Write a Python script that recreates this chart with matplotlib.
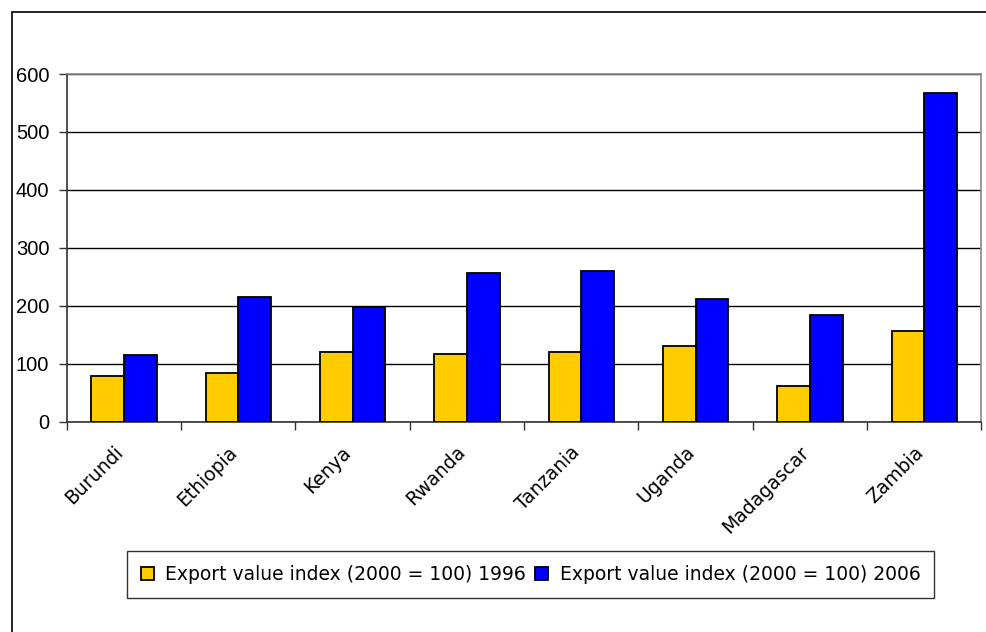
import matplotlib
matplotlib.use("Agg")
import matplotlib.pyplot as plt
import numpy as np
from matplotlib.patches import Rectangle

countries = ["Burundi", "Ethiopia", "Kenya", "Rwanda", "Tanzania", "Uganda",
             "Madagascar", "Zambia"]
index_1996 = [78, 84, 120, 116, 120, 130, 61, 156]
index_2006 = [115, 215, 198, 256, 259, 212, 184, 567]
series_labels = ["Export value index (2000 = 100) 1996",
                 "Export value index (2000 = 100) 2006"]
y_ticks = [0, 100, 200, 300, 400, 500, 600]

W, H = 987, 632
fig = plt.figure(figsize=(W / 100, H / 100), dpi=100)

# outer chart frame
fig.patches.append(Rectangle((12 / W, -0.05), 1.1, 1 - 12 / H + 0.05,
                             transform=fig.transFigure, fill=False,
                             edgecolor="black", linewidth=1.2, zorder=0))

ax = fig.add_axes([66.7 / W, 1 - 421.5 / H, (981.5 - 66.7) / W, (421.5 - 74) / H])

x = np.arange(len(countries))
bw = 1 / 3.5
ax.bar(x - bw / 2, index_1996, width=bw, color="#FFCC00", edgecolor="black",
       linewidth=1.3, label=series_labels[0], zorder=3)
ax.bar(x + bw / 2, index_2006, width=bw, color="#0000FF", edgecolor="black",
       linewidth=1.3, label=series_labels[1], zorder=3)

ax.set_xlim(-0.5, len(countries) - 0.5)
ax.set_ylim(0, 600)
ax.set_yticks(y_ticks)
ax.set_yticklabels([str(v) for v in y_ticks], fontfamily="Liberation Sans",
                   fontsize=14.5)
ax.yaxis.grid(True, color="black", linewidth=1.0, zorder=1)
ax.set_axisbelow(True)

# category boundary ticks
ax.set_xticks(np.arange(len(countries) + 1) - 0.5)
ax.set_xticklabels([])
ax.tick_params(axis="x", direction="out", length=6, width=1, color="#333333")
ax.tick_params(axis="y", direction="out", length=6, width=1, color="#333333",
               pad=6.5)

for i, name in enumerate(countries):
    ax.annotate(name, xy=(i, 0), xycoords=("data", "axes fraction"),
                xytext=(-3, -20), textcoords="offset points",
                rotation=45, rotation_mode="anchor", ha="right", va="center",
                fontfamily="DejaVu Sans", fontsize=13.5, color="black")

for side in ["top", "right"]:
    ax.spines[side].set_color("#888888")
    ax.spines[side].set_linewidth(1.2)
ax.spines["left"].set_color("#333333")
ax.spines["bottom"].set_color("#333333")
ax.spines["left"].set_linewidth(1.2)
ax.spines["bottom"].set_linewidth(1.2)

leg = fig.legend(loc="center", bbox_to_anchor=(530.5 / W, 1 - 574.5 / H),
                 ncol=2, frameon=True, fancybox=False, edgecolor="black",
                 prop={"family": "DejaVu Sans", "size": 13.5},
                 handlelength=0.7, handleheight=0.7, handletextpad=0.6,
                 columnspacing=0.5, borderpad=0.75, borderaxespad=0)
leg.get_frame().set_linewidth(1.0)

fig.savefig("out.png", dpi=100)
